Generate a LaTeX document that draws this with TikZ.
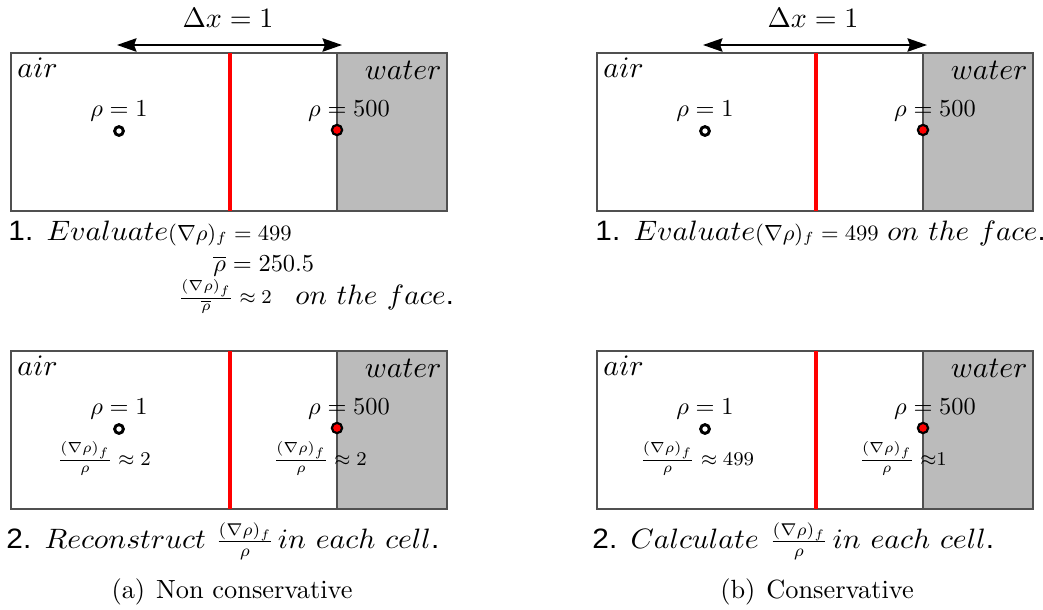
\documentclass[tikz,border=0pt]{standalone}
\usepackage[no-math]{fontspec}
\usepackage{graphicx}
\newfontfamily\numfont{Liberation Sans}
\usetikzlibrary{arrows.meta}
\definecolor{waterc}{RGB}{187,187,187}
\definecolor{boxc}{RGB}{80,80,80}
\newcommand{\st}[1]{\scalebox{1.22}[1.15]{#1}}
\newcommand{\facetxt}[1]{\scalebox{1.19}[1.15]{#1}}
\newcommand{\mt}[1]{\scalebox{1.15}{#1}}
\newcommand{\smt}{\fontsize{8.7}{10}\selectfont}
\newcommand{\frt}{\fontsize{8.3}{10}\selectfont}
\newcommand{\capt}{\fontsize{10.8}{13}\selectfont}
\newcommand{\grf}{\frac{(\nabla\rho)_f}{\rho}}
\tikzset{
  cellbox/.style={draw=boxc, line width=0.5pt},
  face/.style={red, line width=1.4pt},
  airpt/.style={circle, inner sep=0pt, minimum size=3.6pt, draw=black, line width=1.2pt, fill=white},
  waterpt/.style={circle, inner sep=0pt, minimum size=4.2pt, draw=black, line width=0.9pt, fill=red},
  dxarrow/.style={{Stealth[length=8pt,width=5.5pt,inset=1pt]}-{Stealth[length=8pt,width=5.5pt,inset=1pt]}, line width=0.8pt},
  lbl/.style={inner sep=0pt, anchor=base},
  frlbl/.style={inner sep=0pt, anchor=base, font=\frt},
  phase/.style={inner sep=0pt},
  steptxt/.style={inner sep=0pt, anchor=base west},
}
\newcommand{\cellpair}{%
  \fill[waterc] (326,0) rectangle (436,158);
  \draw[cellbox] (0,0) rectangle (436,158);
  \draw[cellbox] (326,0) -- (326,158);
  \draw[face] (219,0) -- (219,158);
  \node[phase, anchor=base west] (air) at (6,24) {\scalebox{1.22}{$air$}};
  \node[phase, anchor=base east] (water) at (431,26) {\scalebox{1.22}{$water$}};
  \node[lbl] (rhoa) at (108,63) {$\rho = 1$};
  \node[lbl] (rhow) at (338,63) {$\rho = 500$};
  \node[airpt] (pa) at (108,78) {};
  \node[waterpt] (pw) at (326,77) {};
}
\begin{document}
\begin{tikzpicture}[x=0.41pt,y=-0.41pt]
\useasboundingbox (0,0) rectangle (1043,610);

% ===== panel (a) =====
\begin{scope}[shift={(11,53)}, name prefix=a1-]
  \cellpair
  \coordinate (l) at (106,-8);
  \coordinate (r) at (331,-8);
  \draw[dxarrow] (l) -- (r);
  \node[lbl] (dx) at (217,-26) {\mt{$\Delta x = 1$}};
\end{scope}
\node[steptxt] (a-s1) at (8,240) {\st{{\numfont 1.} $Evaluate$}{\smt$(\nabla\rho)_f = 499$}};
\node[steptxt] (a-rb) at (213,271) {$\overline{\rho} = 250.5$};
\node[steptxt, font=\frt] (a-rt) at (178,303) {$\frac{(\nabla\rho)_f}{\overline{\rho}} \approx 2$};
\node[steptxt] (a-face) at (295,304) {\facetxt{$on\ the\ face${\numfont .}}};

\begin{scope}[shift={(11,351)}, name prefix=a2-]
  \cellpair
  \node[frlbl] (fa) at (93,114) {$\grf \approx 2$};
  \node[frlbl] (fw) at (309,114) {$\grf \approx 2$};
\end{scope}
\node[steptxt] (a-s2) at (6,548) {\st{{\numfont 2.} $Reconstruct$}\hspace{4pt}$\grf$\hspace{1.5pt}\st{$in\ each\ cell${\numfont .}}};
\node[lbl, font=\capt] (a-cap) at (232,598) {(a)\hspace{4.5pt}Non conservative};

% ===== panel (b) =====
\begin{scope}[shift={(597,53)}, name prefix=b1-]
  \cellpair
  \coordinate (l) at (106,-8);
  \coordinate (r) at (330,-8);
  \draw[dxarrow] (l) -- (r);
  \node[lbl] (dx) at (216,-26) {\mt{$\Delta x = 1$}};
\end{scope}
\node[steptxt] (b-s1) at (595,240) {\st{{\numfont 1.} $Evaluate$}{\smt$(\nabla\rho)_f = 499$}\hspace{3.5pt}\facetxt{$on\ the\ face${\numfont .}}};

\begin{scope}[shift={(597,351)}, name prefix=b2-]
  \cellpair
  \node[frlbl] (fa) at (100,114) {$\grf \approx 499$};
  \node[frlbl] (fw) at (306,114) {$\grf \;{\approx}1$};
\end{scope}
\node[steptxt] (b-s2) at (592,548) {\st{{\numfont 2.} $Calculate$}\hspace{4.5pt}$\grf$\hspace{1.8pt}\st{$in\ each\ cell${\numfont .}}};
\node[lbl, font=\capt] (b-cap) at (817,598) {(b)\hspace{4.5pt}Conservative};
\end{tikzpicture}
\end{document}
